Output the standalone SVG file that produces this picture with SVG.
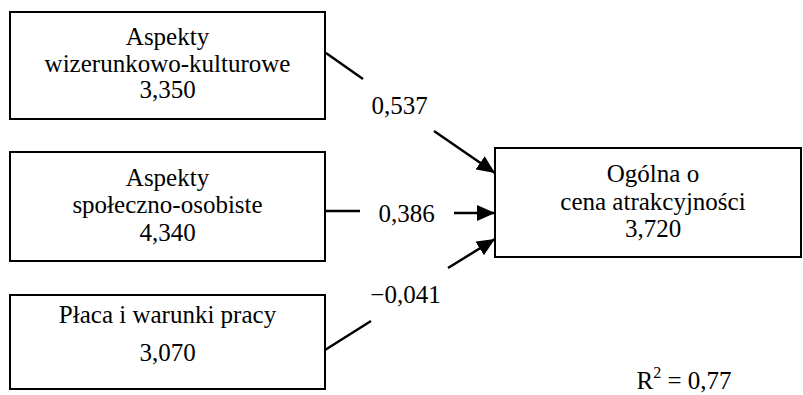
<svg xmlns="http://www.w3.org/2000/svg" width="803" height="395" viewBox="0 0 803 395">
<style>
.box{fill:#fff;stroke:#000;stroke-width:2}
text{font-family:"Liberation Serif","Times New Roman",serif;font-size:25px;fill:#000;text-anchor:middle}
.conn{fill:none;stroke:#000;stroke-width:2.5}
</style>
<defs>
<marker id="arr" markerUnits="userSpaceOnUse" markerWidth="20" markerHeight="16" refX="18" refY="8" orient="auto">
<path d="M0,0 L18,8 L0,16 Z" fill="#000"/>
</marker>
</defs>
<rect width="803" height="395" fill="#fff"/>
<g id="n1">
<rect class="box" x="10" y="12" width="315" height="107"/>
<text x="167.5" y="45">Aspekty</text>
<text x="167.5" y="72">wizerunkowo-kulturowe</text>
<text x="167.5" y="98">3,350</text>
</g>
<g id="n2">
<rect class="box" x="10" y="152" width="315" height="109"/>
<text x="167.5" y="186">Aspekty</text>
<text x="167.5" y="213">społeczno-osobiste</text>
<text x="167.5" y="241">4,340</text>
</g>
<g id="n3">
<rect class="box" x="10" y="295" width="315" height="94"/>
<text x="167.5" y="323">Płaca i warunki pracy</text>
<text x="167.5" y="361">3,070</text>
</g>
<g id="target">
<rect class="box" x="495" y="148" width="306" height="109"/>
<text x="653" y="182">Ogólna o</text>
<text x="653" y="210">cena atrakcyjności</text>
<text x="653" y="237">3,720</text>
</g>
<g id="connectors">
<path class="conn" d="M326,53 L363,79 M434,131 L495,173" marker-end="url(#arr)"/>
<path class="conn" d="M326,211 L360,211 M454,213 L495,213" marker-end="url(#arr)"/>
<path class="conn" d="M325,350 L371,321 M448,268 L495,239" marker-end="url(#arr)"/>
<text x="399.5" y="114">0,537</text>
<text x="406.5" y="222">0,386</text>
<text x="405.5" y="303">−0,041</text>
</g>
<g id="r2">
<text x="684" y="389">R<tspan font-size="16" dy="-11">2</tspan><tspan dy="11"> = 0,77</tspan></text>
</g>
</svg>
